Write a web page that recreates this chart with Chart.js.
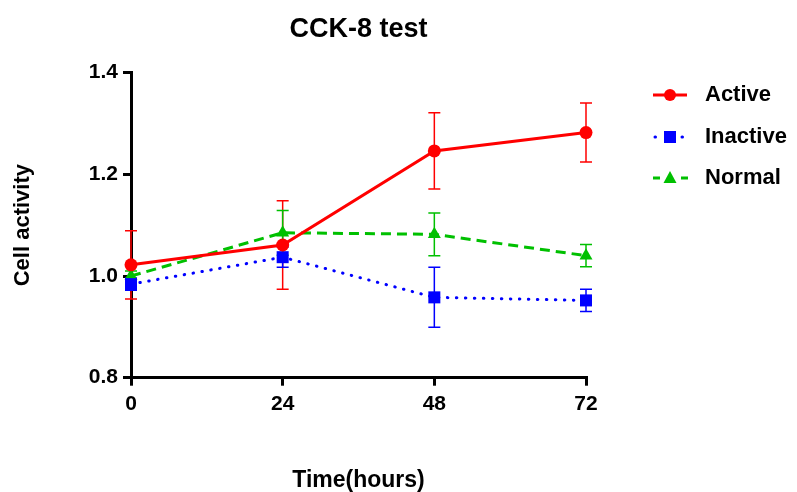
<!DOCTYPE html>
<html>
<head>
<meta charset="utf-8">
<script src="https://cdn.jsdelivr.net/npm/chart.js@4/dist/chart.umd.min.js"></script>
<style>
  html, body { margin: 0; padding: 0; background: #fff; }
  #wrap { width: 797px; height: 492px; }
</style>
</head>
<body>
<div id="wrap"><canvas id="cck8"></canvas></div>
<script>
//values (mean and SD per time point)
var hours = [0, 24, 48, 72];
var seriesNames = ['Active', 'Inactive', 'Normal'];
var activeMean = [1.022, 1.061, 1.246, 1.282];
var activeSD = [0.067, 0.087, 0.075, 0.058];
var inactiveMean = [0.984, 1.037, 0.958, 0.952];
var inactiveSD = [0.012, 0.020, 0.059, 0.022];
var normalMean = [1.000, 1.085, 1.082, 1.040];
var normalSD = [0.010, 0.044, 0.042, 0.022];
var yTicks = [0.8, 1.0, 1.2, 1.4];

var FONT = '"Liberation Sans", Arial, sans-serif';
var RED = '#FF0000', BLUE = '#0000FF', GREEN = '#00C000';

function toPoints(means) {
    return hours.map(function (h, i) { return {x: h, y: means[i]}; });
}

//error bars are drawn from the same scales, before the lines
var errorBars = {
    id: 'errorBars',
    beforeDatasetsDraw: function (chart) {
        var ctx = chart.ctx;
        var xs = chart.scales.x, ys = chart.scales.y;
        chart.data.datasets.forEach(function (ds) {
            ctx.save();
            ctx.strokeStyle = ds.borderColor;
            ctx.lineWidth = 1.5;
            ds.data.forEach(function (p, i) {
                var x = xs.getPixelForValue(p.x);
                var top = ys.getPixelForValue(p.y + ds.sd[i]);
                var bot = ys.getPixelForValue(p.y - ds.sd[i]);
                ctx.beginPath();
                ctx.moveTo(x, top); ctx.lineTo(x, bot);
                ctx.moveTo(x - 6, top); ctx.lineTo(x + 6, top);
                ctx.moveTo(x - 6, bot); ctx.lineTo(x + 6, bot);
                ctx.stroke();
            });
            ctx.restore();
        });
    }
};

function drawMarker(ctx, style, x, y, color) {
    ctx.fillStyle = color;
    ctx.beginPath();
    if (style === 'circle') {
        ctx.arc(x, y, 6, 0, Math.PI * 2);
    } else if (style === 'rect') {
        ctx.rect(x - 6, y - 6, 12, 12);
    } else {
        ctx.moveTo(x, y - 7);
        ctx.lineTo(x + 6.5, y + 5);
        ctx.lineTo(x - 6.5, y + 5);
        ctx.closePath();
    }
    ctx.fill();
}

//legend on the right: line sample + marker + bold label
var sideLegend = {
    id: 'sideLegend',
    afterDraw: function (chart) {
        var ctx = chart.ctx;
        var rows = [95, 137, 178];
        chart.data.datasets.forEach(function (ds, i) {
            var y = rows[i];
            ctx.save();
            ctx.strokeStyle = ds.borderColor;
            ctx.lineWidth = 3;
            ctx.setLineDash(ds.borderDash || []);
            ctx.lineCap = ds.borderCapStyle || 'butt';
            ctx.beginPath();
            if (ds.label === 'Active') {
                ctx.moveTo(653, y); ctx.lineTo(687, y);
            } else if (ds.label === 'Inactive') {
                ctx.moveTo(655, y); ctx.lineTo(656, y);
                ctx.moveTo(682, y); ctx.lineTo(683, y);
            } else {
                ctx.moveTo(653, y); ctx.lineTo(660, y);
                ctx.moveTo(681, y); ctx.lineTo(688, y);
            }
            ctx.stroke();
            ctx.setLineDash([]);
            drawMarker(ctx, ds.pointStyle, 670, y, ds.borderColor);
            ctx.fillStyle = '#000';
            ctx.font = 'bold 22px ' + FONT;
            ctx.textBaseline = 'middle';
            ctx.textAlign = 'left';
            ctx.fillText(ds.label, 705, y);
            ctx.restore();
        });
    }
};

var ctx = document.getElementById('cck8');
var chart = new Chart(ctx, {
    type: 'line',
    data: {
        datasets: [
            {label: seriesNames[0], data: toPoints(activeMean), sd: activeSD,
             borderColor: RED, backgroundColor: RED, borderWidth: 3,
             pointStyle: 'circle', pointRadius: 6.5, pointBorderWidth: 0, clip: false},
            {label: seriesNames[1], data: toPoints(inactiveMean), sd: inactiveSD,
             borderColor: BLUE, backgroundColor: BLUE, borderWidth: 3,
             borderDash: [0.5, 8.5], borderCapStyle: 'round',
             pointStyle: 'rect', pointRadius: 8.5, pointBorderWidth: 0, clip: false},
            {label: seriesNames[2], data: toPoints(normalMean), sd: normalSD,
             borderColor: GREEN, backgroundColor: GREEN, borderWidth: 3,
             borderDash: [10, 6],
             pointStyle: 'triangle', pointRadius: 7.5, pointBorderWidth: 0, clip: false}
        ]
    },
    options: {
        responsive: true,
        maintainAspectRatio: false,
        animation: false,
        layout: {padding: {left: 0, right: 211, top: 0, bottom: 0}},
        plugins: {
            legend: {display: false},
            tooltip: {enabled: false},
            title: {
                display: true,
                text: 'CCK-8 test',
                fullSize: false,
                color: '#000',
                font: {family: FONT, size: 27, weight: 'bold', lineHeight: 1.2},
                padding: {top: 13.5, bottom: 26.7}
            }
        },
        scales: {
            x: {
                type: 'linear',
                min: 0,
                max: 72,
                afterFit: function (s) { s.height = 114.3; },
                afterBuildTicks: function (s) { s.ticks = hours.map(function (h) { return {value: h}; }); },
                border: {display: true, color: '#000', width: 3},
                grid: {drawOnChartArea: false, drawTicks: true, tickLength: 8, color: '#000', lineWidth: 3},
                ticks: {color: '#000', padding: 6, maxRotation: 0,
                        font: {family: FONT, size: 21, weight: 'bold'}},
                title: {display: true, text: 'Time(hours)', color: '#000',
                        font: {family: FONT, size: 23, weight: 'bold', lineHeight: 1},
                        padding: {top: 0, bottom: 0}}
            },
            y: {
                min: 0.8,
                max: 1.4,
                afterFit: function (s) { s.width = 131; },
                afterBuildTicks: function (s) { s.ticks = yTicks.map(function (v) { return {value: v}; }); },
                border: {display: true, color: '#000', width: 3},
                grid: {drawOnChartArea: false, drawTicks: true, tickLength: 8, color: '#000', lineWidth: 3},
                ticks: {color: '#000', padding: 5,
                        font: {family: FONT, size: 21, weight: 'bold'},
                        callback: function (v) { return v.toFixed(1); }},
                title: {display: true, text: 'Cell activity', color: '#000',
                        font: {family: FONT, size: 22, weight: 'bold', lineHeight: 1.2},
                        padding: {top: 10, bottom: 0}}
            }
        }
    },
    plugins: [errorBars, sideLegend]
});
</script>
</body>
</html>
